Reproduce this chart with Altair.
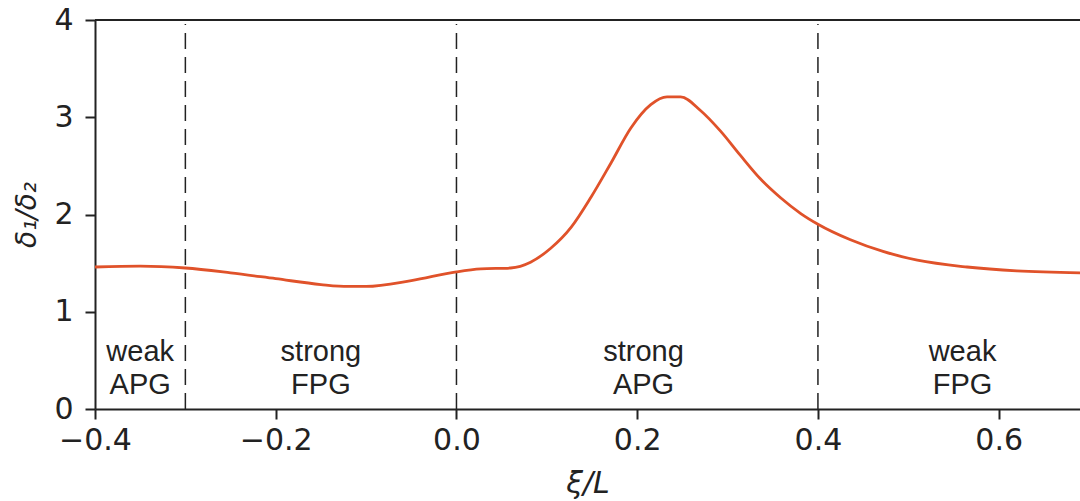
import altair as alt
import pandas as pd

# Shape-factor profile along the streamwise coordinate
xi = [-0.40, -0.35, -0.30, -0.25, -0.20, -0.15, -0.12, -0.10, -0.05, 0.00,
      0.027, 0.060, 0.082, 0.104, 0.127, 0.149, 0.171, 0.193, 0.215, 0.233,
      0.248, 0.270, 0.292, 0.314, 0.336, 0.359, 0.381, 0.400, 0.436, 0.472,
      0.510, 0.565, 0.620, 0.690]
shape = [1.46, 1.47, 1.45, 1.40, 1.34, 1.28, 1.26, 1.26, 1.32, 1.41,
         1.44, 1.45, 1.51, 1.65, 1.87, 2.18, 2.53, 2.89, 3.13, 3.21,
         3.21, 3.07, 2.86, 2.61, 2.37, 2.17, 2.01, 1.90, 1.74, 1.62,
         1.53, 1.46, 1.42, 1.40]

# Boundaries between pressure-gradient regions
bounds = [-0.3, 0.0, 0.4]

# Region labels (two lines each)
region_x = [-0.35, -0.15, 0.207, 0.56]
region_top = ["weak", "strong", "strong", "weak"]
region_bottom = ["APG", "FPG", "APG", "FPG"]

XMIN, XMAX = -0.4, 0.69
YMIN, YMAX = 0, 4

curve = pd.DataFrame({"xi": xi, "shape": shape})
bdf = pd.DataFrame({"xi": bounds, "y0": [0.0] * 3, "y1": [3.96] * 3})
labels = pd.DataFrame({
    "xi": region_x * 2,
    "y": [0.59] * 4 + [0.25] * 4,
    "text": region_top + region_bottom,
})

xscale = alt.Scale(domain=[XMIN, XMAX], nice=False, zero=False)
yscale = alt.Scale(domain=[YMIN, YMAX], nice=False)

INK = "#222222"

xaxis = alt.Axis(
    title="ξ/L", values=[-0.4, -0.2, 0.0, 0.2, 0.4, 0.6], format=".1f",
    grid=False, tickSize=10, tickWidth=2, tickColor=INK,
    domainColor=INK, domainWidth=2,
    labelFont="DejaVu Sans", labelFontSize=30, labelColor=INK,
    labelPadding=6, labelFlush=False,
    titleFont="DejaVu Sans", titleFontSize=30, titleFontStyle="italic",
    titleFontWeight="normal", titleColor=INK, titlePadding=13,
)
yaxis = alt.Axis(
    title="δ₁/δ₂", values=[0, 1, 2, 3, 4], format="d",
    grid=False, tickSize=10, tickWidth=2, tickColor=INK,
    domainColor=INK, domainWidth=2,
    labelFont="DejaVu Sans", labelFontSize=30, labelColor=INK,
    labelPadding=12, labelFlush=False,
    titleFont="DejaVu Sans", titleFontSize=28, titleFontStyle="italic",
    titleFontWeight="normal", titleColor=INK, titlePadding=12,
)

line = alt.Chart(curve).mark_line(
    color="#E0522A", strokeWidth=2.8, interpolate="monotone", clip=True
).encode(
    x=alt.X("xi:Q", scale=xscale, axis=xaxis),
    y=alt.Y("shape:Q", scale=yscale, axis=yaxis),
)

dividers = alt.Chart(bdf).mark_rule(
    color=INK, strokeWidth=1.5, strokeDash=[16, 8]
).encode(
    x=alt.X("xi:Q", scale=xscale),
    y=alt.Y("y0:Q", scale=yscale),
    y2="y1:Q",
)

top_border = alt.Chart(pd.DataFrame({"a": [XMIN], "b": [XMAX], "y": [YMAX]})).mark_rule(
    color=INK, strokeWidth=2
).encode(
    x=alt.X("a:Q", scale=xscale),
    x2="b:Q",
    y=alt.Y("y:Q", scale=yscale),
)

text = alt.Chart(labels).mark_text(
    font="Liberation Sans", fontSize=29, color=INK,
    align="center", baseline="middle"
).encode(
    x=alt.X("xi:Q", scale=xscale),
    y=alt.Y("y:Q", scale=yscale),
    text="text:N",
)

chart = alt.layer(dividers, top_border, line, text).properties(
    width=985, height=389,
    autosize=alt.AutoSizeParams(type="none"),
    padding={"left": 95, "top": 20, "right": 0, "bottom": 92},
).configure_view(stroke=None).configure(background="white")

chart.save("out.html", embed_options={"renderer": "svg", "actions": False})
